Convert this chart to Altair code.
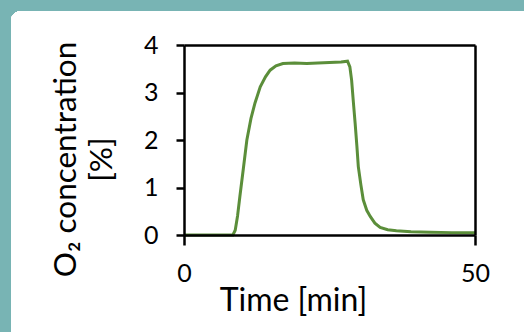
import altair as alt
import pandas as pd

# O2 concentration trace over time
time_min = [0, 8.4, 8.8, 9.2, 9.6, 10.2, 10.8, 11.5, 12.2, 13.1, 14.0, 14.8,
            15.8, 17.0, 19.0, 21.1, 23.0, 25.0, 27.0, 28.1, 28.5, 28.8, 29.1,
            29.4, 29.7, 29.95, 30.4, 30.8, 31.4, 32.0, 32.8, 33.7, 35.0, 36.5,
            39.0, 42.3, 46.0, 50.0]
o2_pct = [0, 0, 0.1, 0.4, 0.81, 1.4, 2.0, 2.45, 2.78, 3.12, 3.33, 3.47,
          3.56, 3.61, 3.62, 3.61, 3.62, 3.63, 3.64, 3.66, 3.54, 3.26, 2.8,
          2.36, 1.88, 1.44, 1.05, 0.74, 0.52, 0.39, 0.25, 0.16, 0.11, 0.09,
          0.07, 0.06, 0.05, 0.05]
x_ticks = [0, 50]
y_ticks = [0, 1, 2, 3, 4]

df = pd.DataFrame({"t": time_min, "o2": o2_pct})

FONT = "Lato"
W, H = 291, 190

x_scale = alt.Scale(domain=[0, 50], nice=False, zero=False)
y_scale = alt.Scale(domain=[0, 4], nice=False)

# white card behind the plot
card = alt.Chart(df).mark_rect(fill="white", cornerRadius=10).encode(
    x=alt.value(-173), x2=alt.value(400),
    y=alt.value(-34), y2=alt.value(350),
)

trace = alt.Chart(df).mark_line(color="#5b8e3a", strokeWidth=3).encode(
    x=alt.X("t:Q", scale=x_scale, axis=alt.Axis(
        values=x_ticks, tickSize=10, labelPadding=16, labelFontSize=25,
        labelFlush=False,
        title="Time [min]", titleFontSize=32, titleFontWeight="normal",
        titleX=109, titleY=75, titleAlign="center", titleBaseline="alphabetic",
        zindex=1,
    )),
    y=alt.Y("o2:Q", scale=y_scale, axis=alt.Axis(
        values=y_ticks, tickSize=8, labelPadding=18, labelFontSize=25,
        title=["O₂ concentration", "[%]"], titleFontSize=31.5,
        titleFontWeight="normal", titleLineHeight=36,
        titleX=-109, titleY=114, titleAlign="center", titleAngle=-90,
        titleBaseline="alphabetic", zindex=1,
    )),
)

# top and right frame lines
frame = alt.Chart(df).mark_line(opacity=0).encode(
    x=alt.X("t:Q", scale=x_scale, axis=alt.Axis(
        orient="top", labels=False, ticks=False, title=None, zindex=1)),
    y=alt.Y("o2:Q", scale=y_scale, axis=alt.Axis(
        orient="right", labels=False, ticks=False, title=None, zindex=1)),
)

chart = (
    alt.layer(card, trace, frame)
    .resolve_axis(x="independent", y="independent")
    .properties(
        width=W, height=H,
        autosize=alt.AutoSizeParams(type="none"),
        padding={"left": 184, "top": 45, "right": 49, "bottom": 97},
        background="#78b4b4",
    )
    .configure_view(stroke=None)
    .configure_axis(
        grid=False,
        domainColor="black", domainWidth=2.5,
        tickColor="black", tickWidth=2.5,
        labelColor="black", titleColor="black",
        labelFont=FONT, titleFont=FONT,
    )
)

chart.save("out.html", embed_options={"renderer": "svg", "actions": False})
